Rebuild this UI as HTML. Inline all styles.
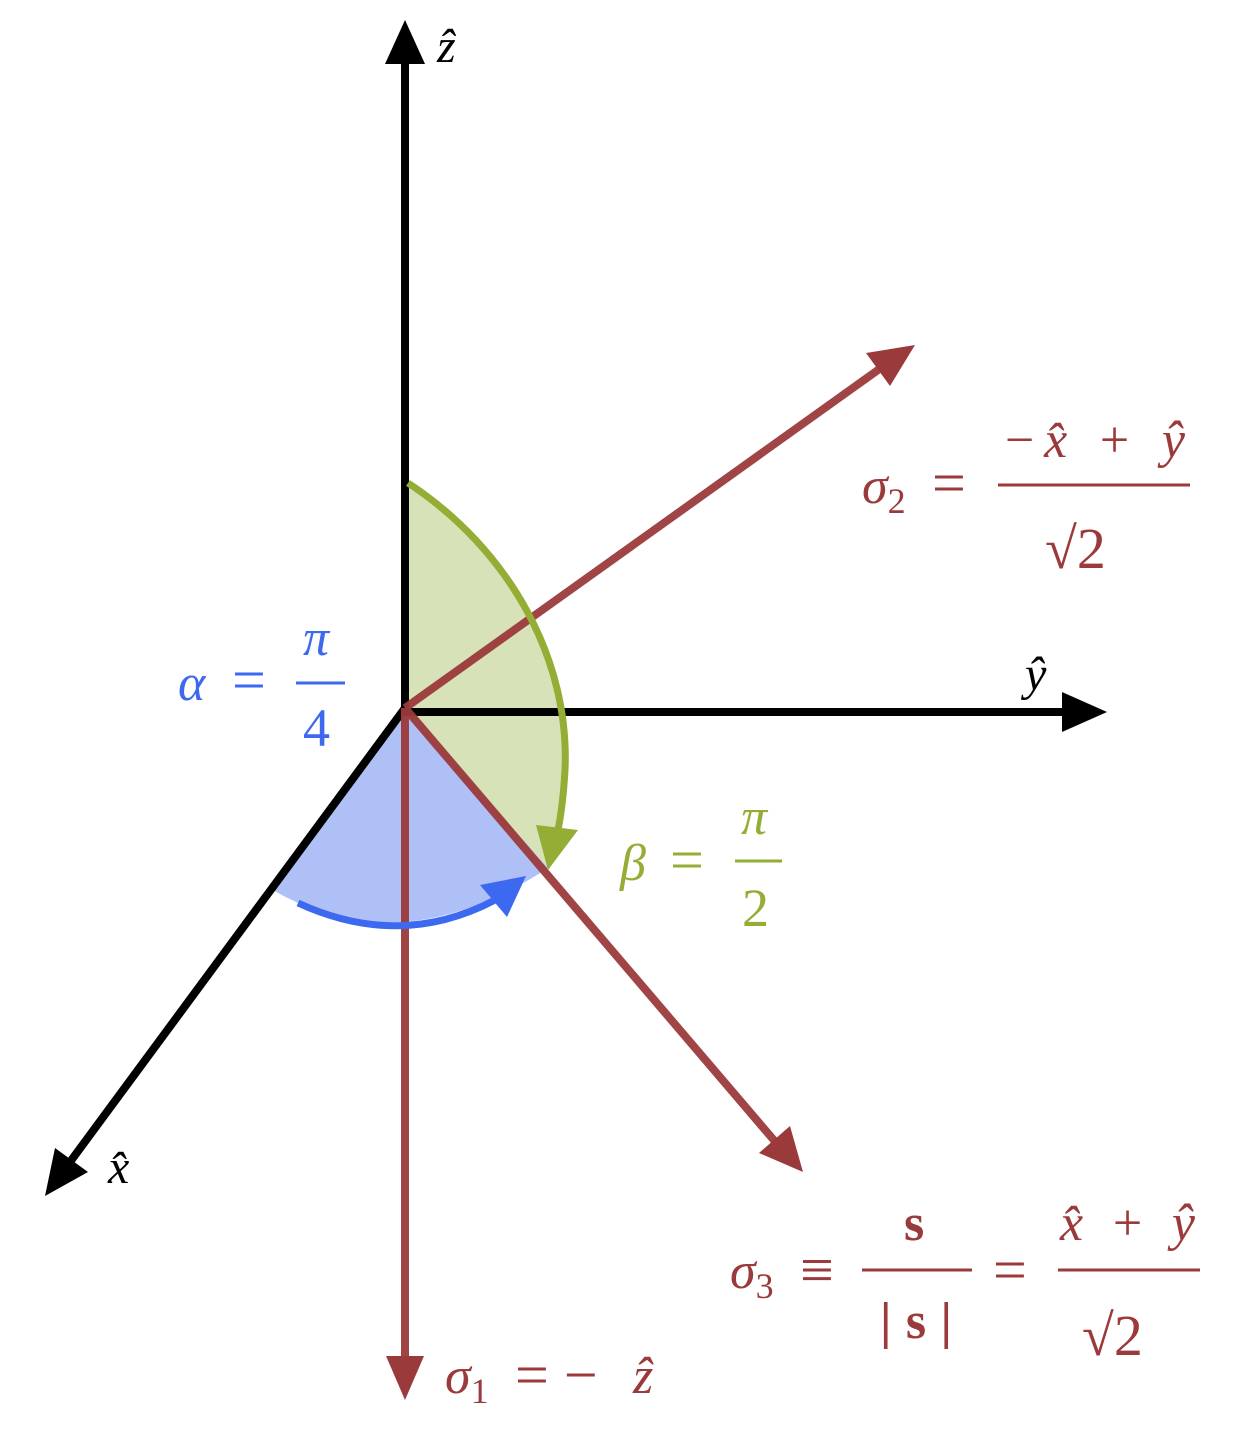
<!DOCTYPE html>
<html><head><meta charset="utf-8"><style>
html,body{margin:0;padding:0;background:#fff}
svg text{font-family:"Liberation Serif",serif;font-style:italic}
svg .n{font-style:normal}
</style></head><body>
<svg width="1240" height="1438" viewBox="0 0 1240 1438" xmlns="http://www.w3.org/2000/svg">
<path d="M405,708 L408,483 C510,550 570,660 565,770 Q562,825 548,868 Z" fill="#d8e2b8"/>
<path d="M405,708 L271,889 Q400,965 548,868 Z" fill="#afc0f7"/>
<g stroke="#000" stroke-width="8" fill="none">
<line x1="405" y1="712" x2="405" y2="60"/>
<line x1="405" y1="712" x2="1065" y2="712"/>
<line x1="405" y1="708" x2="70" y2="1162"/>
</g>
<polygon points="405,20 385,64 425,64" fill="#000"/>
<polygon points="1107,712 1062,692 1062,732" fill="#000"/>
<polygon points="45,1196 55,1148 88,1172" fill="#000"/>
<g stroke="#9b3a3b" stroke-width="8" fill="none" opacity="0.95">
<line x1="405" y1="708" x2="405" y2="1360"/>
<line x1="405" y1="708" x2="885" y2="365"/>
<line x1="405" y1="708" x2="778" y2="1145"/>
</g>
<polygon points="405,1400 386,1356 424,1356" fill="#9b3a3b"/>
<polygon points="915,345 866,353 890,386" fill="#9b3a3b"/>
<polygon points="803,1172 790,1126 759,1153" fill="#9b3a3b"/>
<path d="M408,483 C510,550 570,660 565,770 Q563,805 558,830" stroke="#93ad35" stroke-width="7" fill="none"/>
<polygon points="548,870 536,825 578,830" fill="#93ad35"/>
<path d="M298,903 Q400,950 495,900" stroke="#3d68f0" stroke-width="7" fill="none"/>
<polygon points="526,876 480,885 507,917" fill="#3d68f0"/>
<text x="437" y="62" font-size="48">ẑ</text>
<text x="1025" y="690" font-size="48">ŷ</text>
<text x="108" y="1183" font-size="48">x̂</text>
<g fill="#3d68f0">
<text x="178" y="700" font-size="52">α</text>
<text class="n" x="232" y="700" font-size="60">=</text>
<text x="303" y="655" font-size="52">π</text>
<line x1="296" y1="683" x2="345" y2="683" stroke="#3d68f0" stroke-width="3"/>
<text class="n" x="303" y="746" font-size="54">4</text>
</g>
<g fill="#93ad35">
<text x="620" y="880" font-size="52">β</text>
<text class="n" x="670" y="880" font-size="60">=</text>
<text x="741" y="834" font-size="52">π</text>
<line x1="735" y1="861" x2="782" y2="861" stroke="#93ad35" stroke-width="3"/>
<text class="n" x="742" y="926" font-size="54">2</text>
</g>
<g fill="#9b3a3b">
<text x="862" y="503" font-size="52">σ<tspan class="n" font-size="36" dy="10">2</tspan></text>
<text class="n" x="932" y="503" font-size="60">=</text>
<text x="1005" y="457" font-size="52" textLength="180" lengthAdjust="spacing"><tspan class="n">−</tspan>x̂ <tspan class="n">+</tspan> ŷ</text>
<line x1="998" y1="485" x2="1190" y2="485" stroke="#9b3a3b" stroke-width="3"/>
<text class="n" x="1045" y="568" font-size="58">√2</text>
<text x="730" y="1288" font-size="52">σ<tspan class="n" font-size="36" dy="10">3</tspan></text>
<text class="n" x="800" y="1290" font-size="60">≡</text>
<text class="n" x="904" y="1240" font-size="52" font-weight="bold">s</text>
<line x1="862" y1="1270" x2="972" y2="1270" stroke="#9b3a3b" stroke-width="3"/>
<text class="n" x="880" y="1338" font-size="52" font-weight="bold" textLength="72" lengthAdjust="spacing">|s|</text>
<text class="n" x="993" y="1290" font-size="60">=</text>
<text x="1060" y="1240" font-size="52" textLength="135" lengthAdjust="spacing">x̂ <tspan class="n">+</tspan> ŷ</text>
<line x1="1058" y1="1270" x2="1200" y2="1270" stroke="#9b3a3b" stroke-width="3"/>
<text class="n" x="1082" y="1355" font-size="58">√2</text>
<text x="445" y="1393" font-size="52">σ<tspan class="n" font-size="36" dy="10">1</tspan></text>
<text class="n" x="515" y="1395" font-size="60">= −</text>
<text x="633" y="1393" font-size="52">ẑ</text>
</g>
</svg>
</body></html>
